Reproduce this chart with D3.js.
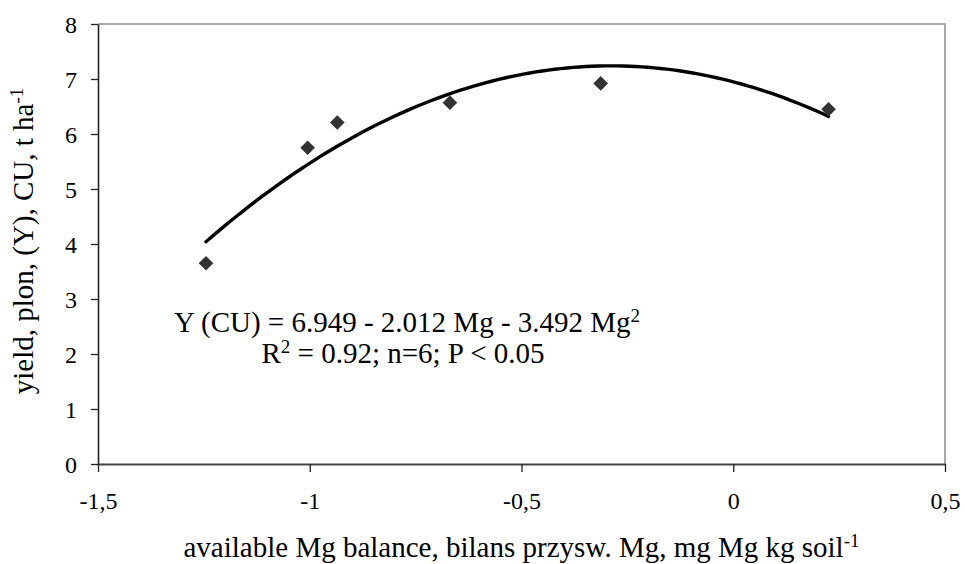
<!DOCTYPE html>
<html>
<head>
<meta charset="utf-8">
<script src="https://cdn.jsdelivr.net/npm/d3@7"></script>
</head>
<body style="margin:0;background:#fff">
<div id="chart"></div>
<script>
// Points
const mgBalance = [-1.245, -1.005, -0.935, -0.669, -0.313, 0.225];
const yieldCU = [3.65, 5.75, 6.21, 6.57, 6.92, 6.45];

// Fitted trend printed on the chart: Y = a + b*Mg + c*Mg^2
const trendCoef = [6.949, -2.012, -3.492];

const xTicks = [-1.5, -1, -0.5, 0, 0.5];
const xTickLabels = ["-1,5", "-1", "-0,5", "0", "0,5"];
const yTicks = [0, 1, 2, 3, 4, 5, 6, 7, 8];

const FONT = '"Liberation Serif", "Times New Roman", serif';
const width = 965, height = 564;
const plot = { left: 98, right: 945, top: 24, bottom: 464 };

const svg = d3.select("#chart").append("svg")
    .attr("width", width)
    .attr("height", height);

const x = d3.scaleLinear().domain([-1.5, 0.5]).range([plot.left, plot.right]);
const y = d3.scaleLinear().domain([0, 8]).range([plot.bottom, plot.top]);

// Plot area border (top and right are light grey)
svg.append("path")
    .attr("d", `M${plot.left},${plot.top}H${plot.right}V${plot.bottom}`)
    .attr("fill", "none")
    .attr("stroke", "#8c8c8c")
    .attr("stroke-width", 1.5);

// Y axis
const yAxis = svg.append("g")
    .attr("transform", `translate(${plot.left},0)`)
    .call(d3.axisLeft(y).tickValues(yTicks).tickSize(7).tickPadding(14).tickSizeOuter(0));
yAxis.select(".domain").attr("stroke", "#222").attr("stroke-width", 1.6);
yAxis.selectAll(".tick line").attr("stroke", "#222").attr("stroke-width", 1.3);
yAxis.selectAll(".tick text").style("font-size", "24px").attr("dy", "0.34em");

// X axis
const xAxis = svg.append("g")
    .attr("transform", `translate(0,${plot.bottom})`)
    .call(d3.axisBottom(x).tickValues(xTicks).tickFormat((d, i) => xTickLabels[i])
        .tickSize(8).tickPadding(20).tickSizeOuter(0));
xAxis.select(".domain").attr("stroke", "#444").attr("stroke-width", 2);
xAxis.selectAll(".tick line").attr("stroke", "#222").attr("stroke-width", 1.3);
xAxis.selectAll(".tick text").style("font-size", "24px");

// Trend line over the range of the data
const [x0, x1] = d3.extent(mgBalance);
const trendX = d3.range(0, 101).map(i => x0 + (x1 - x0) * i / 100);
const trend = trendX.map(m => [m, trendCoef[0] + trendCoef[1] * m + trendCoef[2] * m * m]);

svg.append("path")
    .datum(trend)
    .attr("fill", "none")
    .attr("stroke", "#000")
    .attr("stroke-width", 3.4)
    .attr("stroke-linecap", "round")
    .attr("d", d3.line().x(d => x(d[0])).y(d => y(d[1])));

// Diamond markers
const r = 7.3;
svg.append("g").selectAll("path")
    .data(mgBalance.map((m, i) => [m, yieldCU[i]]))
    .join("path")
    .attr("transform", d => `translate(${x(d[0])},${y(d[1])})`)
    .attr("d", `M0,${-r}L${r},0L0,${r}L${-r},0Z`)
    .attr("fill", "#333");

// Equation text
const line1 = svg.append("text")
    .attr("x", 407).attr("y", 332)
    .attr("text-anchor", "middle")
    .style("font-size", "29px");
line1.append("tspan").text("Y (CU) = 6.949 - 2.012 Mg - 3.492 Mg");
line1.append("tspan").style("font-size", "19px").attr("dy", -10).text("2");

const line2 = svg.append("text")
    .attr("x", 403).attr("y", 363)
    .attr("text-anchor", "middle")
    .style("font-size", "29px");
line2.append("tspan").text("R");
line2.append("tspan").style("font-size", "19px").attr("dy", -10).text("2");
line2.append("tspan").attr("dy", 10).text(" = 0.92; n=6; P < 0.05");

// Axis titles
const xTitle = svg.append("text")
    .attr("x", (plot.left + plot.right) / 2)
    .attr("y", 557)
    .attr("text-anchor", "middle")
    .style("font-size", "29px");
xTitle.append("tspan").text("available Mg balance, bilans przysw. Mg, mg Mg kg soil");
xTitle.append("tspan").style("font-size", "19px").attr("dy", -10).text("-1");

const yTitle = svg.append("text")
    .attr("transform", `translate(33,${(plot.top + plot.bottom) / 2 - 3}) rotate(-90)`)
    .attr("text-anchor", "middle")
    .style("font-size", "29px");
yTitle.append("tspan").text("yield, plon, (Y), CU, t ha");
yTitle.append("tspan").style("font-size", "19px").attr("dy", -10).text("-1");

// Serif everywhere, set inline so the axis defaults don't win
svg.selectAll("text").style("font-family", FONT).attr("fill", "#000");
</script>
</body>
</html>
